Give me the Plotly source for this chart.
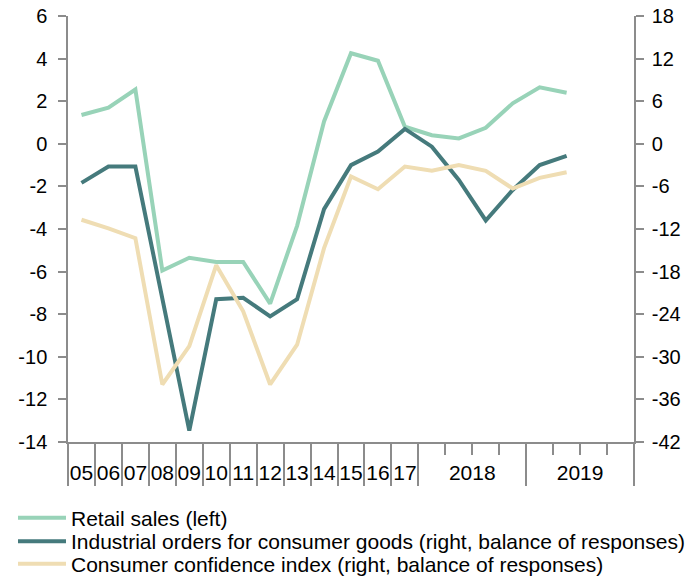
import plotly.graph_objects as go

# ---- data ----
years_short = ["05", "06", "07", "08", "09", "10", "11", "12", "13", "14", "15", "16", "17"]
quarter_years = ["2018", "2019"]
quarters_per_year = 4

retail_sales = [1.35, 1.7, 2.55, -5.95, -5.35, -5.55, -5.55, -7.5, -3.85, 1.05, 4.25, 3.9,
                0.8, 0.4, 0.25, 0.75, 1.9, 2.65, 2.4]
industrial_orders = [-5.5, -3.2, -3.2, -22.0, -40.4, -21.9, -21.7, -24.3, -21.9, -9.2, -3.0, -1.1,
                     2.1, -0.4, -5.1, -10.8, -6.5, -3.0, -1.7]
consumer_confidence = [-10.7, -11.9, -13.3, -33.9, -28.5, -17.1, -23.6, -33.9, -28.3, -14.7, -4.6, -6.4,
                       -3.2, -3.8, -3.0, -3.8, -6.3, -4.8, -4.0]

left_ticks = [6, 4, 2, 0, -2, -4, -6, -8, -10, -12, -14]
right_ticks = [18, 12, 6, 0, -6, -12, -18, -24, -30, -36, -42]

names = ["Retail sales (left)",
         "Industrial orders for consumer goods (right, balance of responses)",
         "Consumer confidence index (right, balance of responses)"]
colors = ["#98D3B8", "#457A7C", "#EFDDB3"]

# ---- axis structure ----
n_annual = len(years_short)
n_slots = n_annual + quarters_per_year * len(quarter_years)
x_idx = list(range(len(retail_sales)))

long_ticks = [i - 0.5 for i in range(n_annual + 1)] + \
             [n_annual - 0.5 + quarters_per_year * (k + 1) for k in range(len(quarter_years))]
short_ticks = [n_annual - 0.5 + quarters_per_year * k + q
               for k in range(len(quarter_years)) for q in range(1, quarters_per_year)]
label_pos = list(range(n_annual)) + \
            [n_annual - 0.5 + quarters_per_year * k + quarters_per_year / 2 for k in range(len(quarter_years))]
label_text = years_short + quarter_years

FONT = "Liberation Sans, Arial, sans-serif"
GRAY = "#8C8C8C"
xrange = [-0.5, n_slots - 0.5]

fig = go.Figure()
fig.add_trace(go.Scatter(x=x_idx, y=retail_sales, mode="lines", name=names[0],
                         line=dict(color=colors[0], width=4), xaxis="x", yaxis="y", legend="legend"))
fig.add_trace(go.Scatter(x=x_idx, y=industrial_orders, mode="lines", name=names[1],
                         line=dict(color=colors[1], width=4), xaxis="x", yaxis="y2", legend="legend2"))
fig.add_trace(go.Scatter(x=x_idx, y=consumer_confidence, mode="lines", name=names[2],
                         line=dict(color=colors[2], width=4), xaxis="x", yaxis="y2", legend="legend3"))
# helper traces so the extra tick/label axes are rendered
for ax in ["x2", "x3"]:
    fig.add_trace(go.Scatter(x=[None], y=[None], xaxis=ax, yaxis="y", showlegend=False,
                             hoverinfo="skip", mode="lines"))

common_y = dict(showgrid=False, zeroline=False, showline=True, linecolor=GRAY, linewidth=1.5,
                ticks="outside", ticklen=8, tickwidth=1.5, tickcolor=GRAY, automargin=False,
                tickfont=dict(family=FONT, size=20, color="#000"))

fig.update_layout(
    template="none",
    width=690, height=579,
    margin=dict(l=68, r=56, t=16, b=137, autoexpand=False),
    paper_bgcolor="white", plot_bgcolor="white",
    font=dict(family=FONT, size=20, color="#000"),
    xaxis=dict(range=xrange, tickmode="array", tickvals=long_ticks, showticklabels=False,
               ticks="outside", ticklen=42, tickwidth=1.5, tickcolor=GRAY, automargin=False,
               showline=True, linecolor=GRAY, linewidth=1.5, showgrid=False, zeroline=False),
    xaxis2=dict(range=xrange, overlaying="x", anchor="y", tickmode="array", tickvals=short_ticks,
                showticklabels=False, ticks="outside", ticklen=12, tickwidth=1.5, tickcolor=GRAY,
                showline=False, showgrid=False, zeroline=False, automargin=False),
    xaxis3=dict(range=xrange, overlaying="x", anchor="y", tickmode="array", tickvals=label_pos,
                ticktext=label_text, ticks="", ticklen=0, showline=False, showgrid=False,
                zeroline=False, ticklabelstandoff=16, automargin=False,
                tickfont=dict(family=FONT, size=21, color="#000")),
    yaxis=dict(range=[-14, 6], tickmode="array", tickvals=left_ticks,
               ticktext=[str(v) for v in left_ticks], ticklabelstandoff=7, **common_y),
    yaxis2=dict(range=[-42, 18], overlaying="y", side="right", anchor="x", tickmode="array",
                tickvals=right_ticks, ticktext=[str(v) for v in right_ticks],
                ticklabelstandoff=4, **common_y),
    showlegend=True,
)

leg_common = dict(xref="container", yref="container", xanchor="left", yanchor="middle",
                  bgcolor="rgba(0,0,0,0)", borderwidth=0,
                  font=dict(family=FONT, size=21, color="#000"), itemwidth=48, x=13 / 690)
fig.update_layout(
    legend=dict(y=1 - 518 / 579, **leg_common),
    legend2=dict(y=1 - 541.5 / 579, **leg_common),
    legend3=dict(y=1 - 564 / 579, **leg_common),
)

fig.write_html("out.html", config={"displayModeBar": False})

# remove the default browser body margin so the figure sits at the page origin
with open("out.html", "r", encoding="utf-8") as f:
    html = f.read()
html = html.replace("<body>", '<body style="margin:0;padding:0;">', 1)
html = html.replace("<head>", "<head><style>html,body{margin:0;padding:0;}</style>", 1)
with open("out.html", "w", encoding="utf-8") as f:
    f.write(html)
